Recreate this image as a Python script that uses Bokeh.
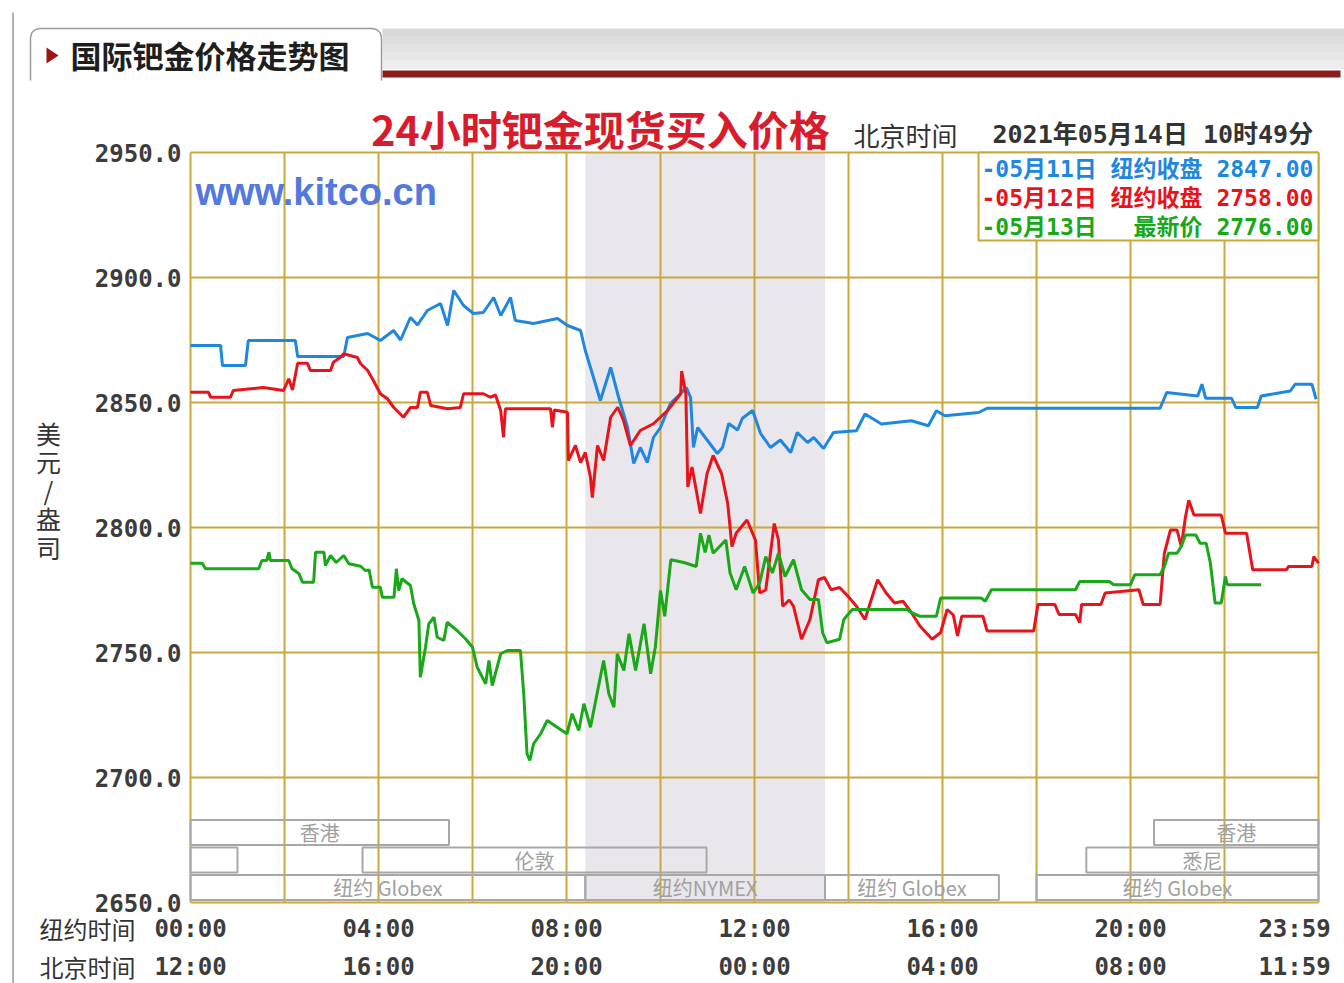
from bokeh.plotting import figure
from bokeh.models import Range1d
from bokeh.embed import file_html
from bokeh.resources import INLINE
from bokeh.core.properties import value

# ---------------- data (hours in New York time, price in USD/oz) ----------------
blue_h = [0, 0.64, 0.68, 1.17, 1.23, 2.23, 2.28, 3.26, 3.34, 3.77, 4.04, 4.32, 4.47, 4.68, 4.83,
          5.04, 5.32, 5.47, 5.6, 5.81, 6.02, 6.23, 6.45, 6.6, 6.81, 6.91, 7.3, 7.81, 8.02, 8.3,
          8.4, 8.51, 8.72, 8.94, 9.11, 9.3, 9.43, 9.57, 9.72, 9.85, 10.0, 10.21, 10.43, 10.55,
          10.64, 10.7, 10.79, 11.0, 11.21, 11.32, 11.45, 11.64, 11.74, 11.96, 12.13, 12.34,
          12.55, 12.77, 12.91, 13.13, 13.26, 13.47, 13.68, 14.17, 14.35, 14.7, 15.34, 15.7,
          15.87, 16.05, 16.77, 16.95, 20.63, 20.77, 21.43, 21.52, 21.6, 22.15, 22.24, 22.7,
          22.78, 23.4, 23.5, 23.86, 23.95]
blue_p = [2872.8, 2872.8, 2864.8, 2864.8, 2874.8, 2874.8, 2868.4, 2868.4, 2876, 2877.6, 2874.8,
          2878.8, 2875, 2884, 2881, 2886.8, 2889.6, 2880.8, 2894.8, 2888.8, 2885.6, 2886, 2892,
          2884.8, 2892, 2882.8, 2881.6, 2883.6, 2880.8, 2878.8, 2870.8, 2864, 2850.8, 2864,
          2852, 2840, 2825.6, 2832, 2826, 2836, 2840, 2849.6, 2853.6, 2856,
          2852, 2832, 2840, 2834.8, 2829.6, 2832, 2841.6, 2839, 2843.6, 2846.8, 2837.6, 2832,
          2835, 2830, 2838, 2834, 2836, 2831.6, 2838, 2838.7, 2845.4, 2841.4, 2842.7, 2840.7,
          2846.7, 2844.7, 2846, 2847.7, 2847.7, 2854, 2852.6, 2857.3, 2851.7, 2851.7, 2848,
          2848, 2852.6, 2854.6, 2857.3, 2857.3, 2851.3]

red_h = [0, 0.38, 0.43, 0.85, 0.91, 1.55, 1.98, 2.09, 2.17, 2.28, 2.49, 2.55, 2.98, 3.04, 3.19,
         3.26, 3.55, 3.62, 3.77, 3.89, 4.04, 4.19, 4.32, 4.53, 4.68, 4.83, 4.89, 5.04, 5.11,
         5.47, 5.74, 5.81, 6.23, 6.38, 6.49, 6.6, 6.66, 6.7, 7.66, 7.7, 7.74, 8.02, 8.04, 8.19,
         8.3, 8.4, 8.51, 8.55, 8.66, 8.79, 8.94, 9.09, 9.21, 9.36, 9.57, 9.85, 10.15, 10.43,
         10.45, 10.54, 10.58, 10.67, 10.85, 10.99, 11.12, 11.3, 11.43, 11.52, 11.61, 11.84,
         12.02, 12.11, 12.24, 12.42, 12.51, 12.6, 12.74, 12.83, 13.0, 13.18, 13.36, 13.49,
         13.63, 13.81, 13.99, 14.17, 14.35, 14.62, 14.8, 14.98, 15.16, 15.34, 15.52, 15.78,
         15.96, 16.1, 16.23, 16.32, 16.41, 16.86, 16.95, 17.94, 18.03, 18.39, 18.48, 18.83,
         18.92, 18.96, 19.37, 19.46, 20.18, 20.27, 20.63, 20.72, 20.85, 20.99, 21.08, 21.17,
         21.24, 21.35, 21.93, 22.02, 22.47, 22.6, 23.32, 23.36, 23.86, 23.9, 24.0]
red_p = [2854.1, 2854.1, 2852.1, 2852.1, 2854.8, 2856, 2854.8, 2859.5, 2855, 2865.7, 2865.7,
         2862.8, 2862.8, 2866.1, 2868.1, 2869.5, 2868, 2865.5, 2862.8, 2858.8, 2853.5, 2851.5,
         2848.1, 2844.1, 2848, 2848, 2854.1, 2854.1, 2848.8, 2847.5, 2848, 2853.5, 2853.5,
         2852.1, 2853, 2846.8, 2836.1, 2847.5, 2847.5, 2840.1, 2847, 2846.1, 2826.8, 2832.8,
         2826, 2830, 2820.1, 2812, 2832.8, 2826.8, 2844.1, 2848.1, 2843, 2832.8, 2838.8,
         2841.5, 2846.8, 2853.5,
         2862.6, 2853.3, 2816.2, 2824.2, 2805.6, 2821.5, 2828.8, 2821.5, 2809.6, 2792.4,
         2797.7, 2803, 2795, 2773.8, 2775, 2801.6, 2795, 2768.5, 2771, 2768.5, 2755.3, 2763.2,
         2779.1, 2780, 2775.1, 2776, 2772.5, 2768.5, 2763.2, 2779.1, 2773.8, 2769.8, 2770.5,
         2765.9, 2760.6, 2755.3, 2758, 2767.2, 2765, 2756.6, 2764.5, 2764.5, 2758.6, 2758.6,
         2769.2, 2769.2, 2765.2, 2765.2, 2762, 2769.2, 2769.2, 2773.8, 2775.1, 2769.2, 2769.2,
         2789.7, 2799, 2799, 2792.4, 2804.3, 2810.9, 2805, 2805, 2797.7, 2797.7, 2783.1,
         2783.1, 2784.4, 2784.4, 2788.4, 2785.7]

green_h = [0, 0.25, 0.32, 1.45, 1.52, 1.62, 1.67, 1.7, 2.09, 2.16, 2.31, 2.38, 2.62, 2.66, 2.84,
           2.87, 2.98, 3.1, 3.26, 3.37, 3.62, 3.72, 3.8, 3.87, 4.04, 4.08, 4.33, 4.38, 4.43,
           4.5, 4.68, 4.75, 4.86, 4.89, 5.0, 5.07, 5.18, 5.25, 5.39, 5.46, 5.67, 5.85, 6.0,
           6.1, 6.28, 6.35, 6.42, 6.6, 6.74, 7.02, 7.09, 7.16, 7.22, 7.3, 7.45, 7.59, 7.8,
           8.01, 8.12, 8.26, 8.37, 8.51, 8.65, 8.79, 8.9, 9.01, 9.08, 9.22, 9.33, 9.47, 9.65,
           9.79, 9.89, 10.0, 10.09, 10.22, 10.5, 10.76, 10.85, 10.95, 11.03, 11.12, 11.39,
           11.48, 11.61, 11.79, 11.97, 12.11, 12.24, 12.38, 12.51, 12.65, 12.83, 13.0, 13.18,
           13.36, 13.45, 13.54, 13.81, 13.9, 14.08, 15.25, 15.34, 15.52, 15.87, 15.96, 16.82,
           16.91, 17.04, 18.83, 18.92, 19.55, 19.64, 20.0, 20.09, 20.63, 20.72, 20.81, 20.99,
           21.08, 21.17, 21.39, 21.48, 21.61, 21.7, 21.8, 21.93, 22.02, 22.06, 22.78]
green_p = [2785.7, 2785.7, 2783.5, 2783.5, 2786.8, 2786.8, 2790.1, 2786.8, 2786.8, 2783.5,
           2781.5, 2778.1, 2778.1, 2790.1, 2790.1, 2784.8, 2788.8, 2786, 2788.8, 2785.5,
           2784.5, 2782.8, 2783, 2776.1, 2776.1, 2772.1, 2772.1, 2783.5, 2774.8, 2779.5,
           2776.8, 2769.5, 2762.8, 2740.1, 2752.1, 2761.5, 2764.1, 2756.1, 2754.8, 2762.1,
           2758.8, 2755.5, 2752.1, 2744.1, 2737.5, 2746.8, 2736.8, 2749.5, 2750.8, 2750.8,
           2733.5, 2709.5, 2706.8, 2713.5, 2717.5, 2722.8, 2720.1, 2717.5, 2725.5, 2718.8,
           2729.5, 2720.1, 2733.5, 2746.8, 2733.5, 2728.1, 2749.5, 2742.8, 2757.5, 2742.8,
           2761.5, 2741.5, 2752.1, 2774.8, 2764.5, 2787.1, 2786, 2784.4, 2797.7, 2790, 2797,
           2789.7, 2795, 2781.8, 2775.1, 2784.4, 2773.8, 2777.8, 2788.4, 2781.8, 2789.7,
           2780.4, 2787.1, 2775.1, 2771.2, 2771.2, 2757.9, 2753.9, 2755.3, 2763.2, 2767.2,
           2767.2, 2765.9, 2764.5, 2764.5, 2771.8, 2771.8, 2770.5, 2775.1, 2775.1, 2778.4,
           2778.4, 2777.1, 2777.1, 2781.1, 2781.1, 2784.4, 2789.7, 2789.7, 2792.4, 2797,
           2797, 2793.7, 2793.7, 2785.7, 2769.8, 2769.8, 2780.4, 2777.1, 2777.1]

y_ticks = [2650, 2700, 2750, 2800, 2850, 2900, 2950]
x_grid = list(range(0, 25, 2))
ny_tick_h = [0, 4, 8, 12, 16, 20, 24]
ny_labels = ["00:00", "04:00", "08:00", "12:00", "16:00", "20:00", "23:59"]
bj_labels = ["12:00", "16:00", "20:00", "00:00", "04:00", "08:00", "11:59"]

legend_texts = ["-05月11日 纽约收盘 2847.00",
                "-05月12日 纽约收盘 2758.00",
                "-05月13日　 最新价 2776.00"]

# trading sessions: label, start hour, end hour, row (0 = top)
session_label = ["香港", "", "伦敦", "纽约 Globex", "纽约NYMEX", "纽约 Globex", "悉尼", "香港", "纽约 Globex"]
session_start = [0, 0, 3.66, 0, 8.4, 13.5, 19.06, 20.5, 18.0]
session_end = [5.5, 1.0, 10.98, 8.4, 13.5, 17.2, 24, 24, 24]
session_row = [0, 1, 1, 2, 2, 2, 1, 0, 2]
row_top = [2683, 2672, 2661]
row_bot = [2673, 2662, 2651]
nymex_start, nymex_end = 8.4, 13.5

BLUE, RED, GREEN = "#1f87e0", "#e8141c", "#18a818"
GOLD = "#c9a83c"
MONO = "DejaVu Sans Mono, Noto Sans CJK SC"
CJK = "Noto Sans CJK SC"

# ---------------- page geometry ----------------
PAGE_W, PAGE_H = 1344, 983
PL, PR, PT, PB = 190, 1318, 152, 902     # plot area on the page (pixels)
X0, X1, Y0, Y1 = 0.0, 24.0, 2650.0, 2950.0
XS = (X1 - X0) / (PR - PL)               # hours per pixel
YS = (Y1 - Y0) / (PB - PT)               # dollars per pixel


def hx(px):
    return X0 + (px - PL) * XS


def py(px):
    return Y1 - (px - PT) * YS


p = figure(width=PAGE_W, height=PAGE_H,
           x_range=Range1d(hx(0), hx(PAGE_W)), y_range=Range1d(py(PAGE_H), py(0)),
           x_axis_type=None, y_axis_type=None, toolbar_location=None, output_backend="svg",
           min_border=0, outline_line_color=None, background_fill_color="white",
           border_fill_color="white")


def txt(x, y, s, size, color, font=CJK, align="left", bold=False):
    p.text(x=[x], y=[y], text=[s], text_align=align, text_baseline="middle",
           text_font=value(font), text_font_size=size, text_color=color,
           text_font_style="bold" if bold else "normal")


# ---------------- header tab (decoration) ----------------
band_tops = [28, 36, 44, 52, 60]
band_cols = ["#d9d9d9", "#dedede", "#e3e3e3", "#e8e8e8", "#ededed"]
p.quad(left=hx(382), right=hx(PAGE_W), top=[py(t) for t in band_tops],
       bottom=[py(t + 8.5) for t in band_tops], color=band_cols, line_color=None)
p.quad(left=hx(382), right=hx(1340), top=py(70), bottom=py(77), color="#8c1c1c", line_color=None)
tab_px = [30, 30, 31.5, 35, 39, 372, 376, 379.5, 381, 381]
tab_py = [80, 37, 32, 29, 28, 28, 29, 32, 37, 80]
p.patch([hx(v) for v in tab_px], [py(v) for v in tab_py], fill_color="white", line_color=None)
p.line([hx(v) for v in tab_px], [py(v) for v in tab_py], line_color="#9a9a9a", line_width=1.5)
p.patch([hx(46), hx(58), hx(46)], [py(47), py(55), py(63)], color="#9b1515", line_color=None)
txt(hx(70), py(54), "国际钯金价格走势图", "31px", "#1e1e1e", bold=True)
p.segment(x0=[hx(12.5)], y0=[py(12)], x1=[hx(12.5)], y1=[py(PAGE_H)],
          line_color="#9a9a9a", line_width=1.5)

# ---------------- plot area ----------------
# NYMEX session shading
p.quad(left=[nymex_start], right=[nymex_end], bottom=[Y0], top=[Y1],
       color="#e9e7ec", line_color=None)
# grid + frame
p.segment(x0=x_grid, y0=[Y0] * len(x_grid), x1=x_grid, y1=[Y1] * len(x_grid),
          line_color=GOLD, line_width=2)
p.segment(x0=[X0] * len(y_ticks), y0=y_ticks, x1=[X1] * len(y_ticks), y1=y_ticks,
          line_color=GOLD, line_width=2)

# session brackets in the lower band
for lab, s, e, r in zip(session_label, session_start, session_end, session_row):
    p.quad(left=[s], right=[e], top=[row_top[r]], bottom=[row_bot[r]],
           fill_alpha=0, line_color="#a8a8a8", line_width=2)
    if lab:
        txt((s + e) / 2, (row_top[r] + row_bot[r]) / 2, lab, "20px", "#a0a0a0", align="center")

# price lines
p.line(blue_h, blue_p, line_color=BLUE, line_width=3)
p.line(red_h, red_p, line_color=RED, line_width=3)
p.line(green_h, green_p, line_color=GREEN, line_width=3)

# legend box
p.quad(left=[hx(978)], right=[X1], top=[Y1], bottom=[py(240)],
       fill_color="white", line_color=GOLD, line_width=2)
for t, c, yy in zip(legend_texts, [BLUE, RED, GREEN], [168, 197, 226]):
    txt(hx(981), py(yy), t, "23px", c, font=MONO, bold=True)

# watermark
txt(hx(195), py(191), "www.kitco.cn", "38px", "#5378de", font="Liberation Sans", bold=True)

# titles
txt(hx(600), py(127), "24小时钯金现货买入价格", "41px", "#d81c2c", align="center", bold=True)
txt(hx(853), py(134), "北京时间", "26px", "#333333")
txt(hx(992), py(134), "2021年05月14日 10时49分", "25px", "#333333", font=MONO, bold=True)

# y tick labels
p.text(x=[hx(181)] * len(y_ticks), y=y_ticks, text=["%.1f" % v for v in y_ticks],
       text_align="right", text_baseline="middle", text_font=value("DejaVu Sans Mono"),
       text_font_style="bold", text_font_size="24px", text_color="#3c3c3c")

# y axis title (stacked characters)
for i, ch in enumerate("美元/盎司"):
    txt(hx(48), py(432 + 28.5 * i), ch, "25px", "#333333", align="center")

# x axis labels (two rows)
txt(hx(87), py(928), "纽约时间", "24px", "#333333", align="center")
txt(hx(87), py(966), "北京时间", "24px", "#333333", align="center")
last_shift = hx(1294) - hx(PR)
lab_x = [h + (last_shift if i == len(ny_tick_h) - 1 else 0) for i, h in enumerate(ny_tick_h)]
for labels, yy in ((ny_labels, 928), (bj_labels, 966)):
    p.text(x=lab_x, y=[py(yy)] * len(lab_x), text=labels, text_align="center",
           text_baseline="middle", text_font=value("DejaVu Sans Mono"),
           text_font_style="bold", text_font_size="24px", text_color="#3c3c3c")

open("out.html", "w").write(file_html(p, INLINE))
